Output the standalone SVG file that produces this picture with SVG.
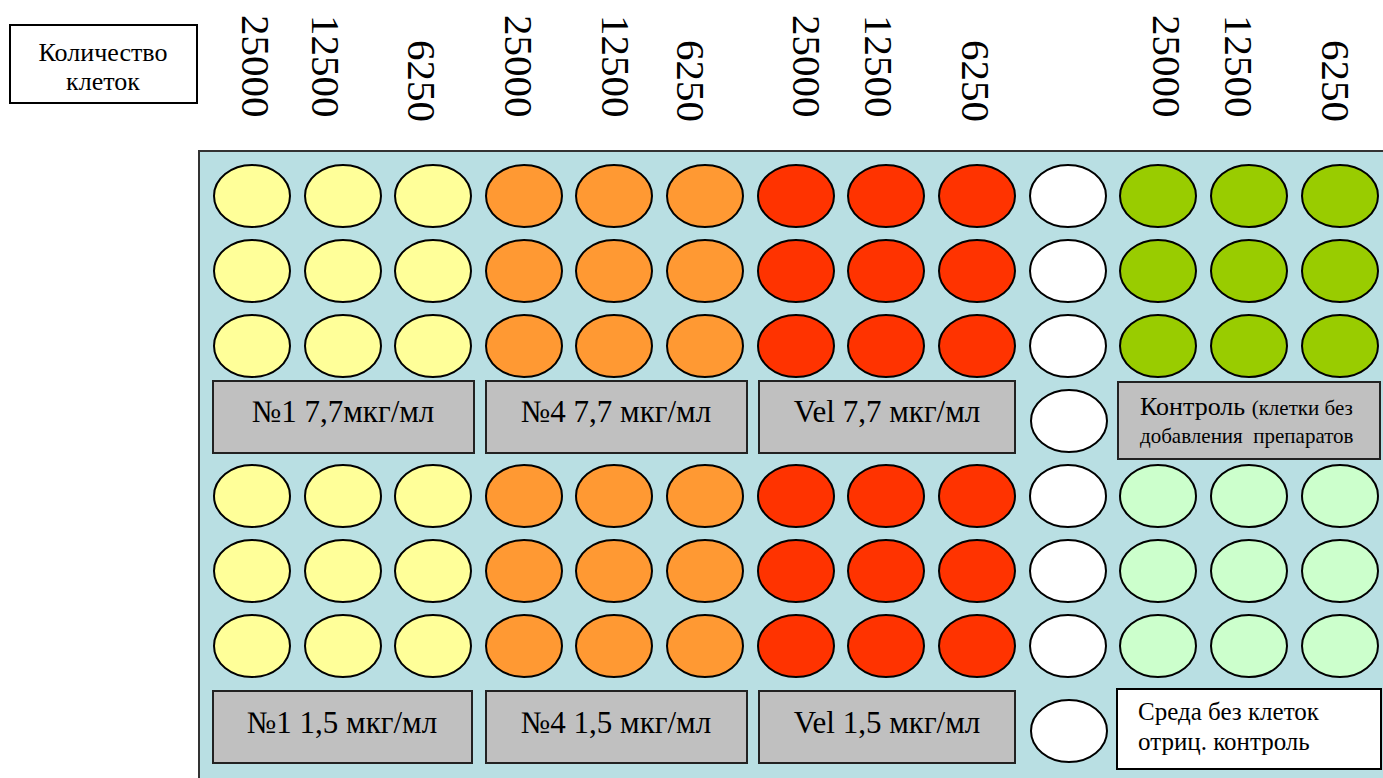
<svg xmlns="http://www.w3.org/2000/svg" width="1383" height="778" viewBox="0 0 1383 778" font-family="'Liberation Serif', serif">
<style>
text{font-family:"Liberation Serif",serif;fill:#000}
.num{font-size:41px;font-family:"Liberation Serif",serif}
.w{stroke:#000;stroke-width:2}
.y{fill:#FFFF99}.o{fill:#FF9933}.r{fill:#FF3300}.wh{fill:#FFFFFF}.g{fill:#99CC00}.lg{fill:#CCFFCC}
.lab{fill:#C0C0C0;stroke:#222;stroke-width:2}
.lt{font-size:31px;text-anchor:middle}
</style>
<rect width="1383" height="778" fill="#fff"/>
<g id="header-box">
<rect x="10" y="25" width="187" height="78" fill="#fff" stroke="#000" stroke-width="2"/>
<text x="103" y="61" font-size="26" text-anchor="middle">Количество</text>
<text x="103" y="90" font-size="26" text-anchor="middle">клеток</text>
</g>
<g id="header-numbers" font-family="'Liberation Serif', serif" font-size="41">
<text class="num" transform="translate(242,15) rotate(90)">25000</text>
<text class="num" transform="translate(312,15) rotate(90)">12500</text>
<text class="num" transform="translate(408,40) rotate(90)">6250</text>
<text class="num" transform="translate(505,15) rotate(90)">25000</text>
<text class="num" transform="translate(602,15) rotate(90)">12500</text>
<text class="num" transform="translate(677,40) rotate(90)">6250</text>
<text class="num" transform="translate(793,15) rotate(90)">25000</text>
<text class="num" transform="translate(865,15) rotate(90)">12500</text>
<text class="num" transform="translate(962,40) rotate(90)">6250</text>
<text class="num" transform="translate(1153,15) rotate(90)">25000</text>
<text class="num" transform="translate(1225,15) rotate(90)">12500</text>
<text class="num" transform="translate(1322,40) rotate(90)">6250</text>
</g>
<g id="plate">
<rect x="199" y="151" width="1200" height="640" fill="#B9DFE3" stroke="#333" stroke-width="2"/>
</g>
<defs>
<ellipse id="e" rx="38" ry="31"/>
</defs>
<g id="wells" class="w">
<g id="row1">
<use href="#e" x="252" y="196" class="y"/><use href="#e" x="343" y="196" class="y"/><use href="#e" x="433" y="196" class="y"/>
<use href="#e" x="524" y="196" class="o"/><use href="#e" x="614" y="196" class="o"/><use href="#e" x="705" y="196" class="o"/>
<use href="#e" x="796" y="196" class="r"/><use href="#e" x="886" y="196" class="r"/><use href="#e" x="977" y="196" class="r"/>
<use href="#e" x="1068" y="196" class="wh"/>
<use href="#e" x="1158" y="196" class="g"/><use href="#e" x="1249" y="196" class="g"/><use href="#e" x="1340" y="196" class="g"/>
</g>
<g id="row2">
<use href="#e" x="252" y="271" class="y"/><use href="#e" x="343" y="271" class="y"/><use href="#e" x="433" y="271" class="y"/>
<use href="#e" x="524" y="271" class="o"/><use href="#e" x="614" y="271" class="o"/><use href="#e" x="705" y="271" class="o"/>
<use href="#e" x="796" y="271" class="r"/><use href="#e" x="886" y="271" class="r"/><use href="#e" x="977" y="271" class="r"/>
<use href="#e" x="1068" y="271" class="wh"/>
<use href="#e" x="1158" y="271" class="g"/><use href="#e" x="1249" y="271" class="g"/><use href="#e" x="1340" y="271" class="g"/>
</g>
<g id="row3">
<use href="#e" x="252" y="346" class="y"/><use href="#e" x="343" y="346" class="y"/><use href="#e" x="433" y="346" class="y"/>
<use href="#e" x="524" y="346" class="o"/><use href="#e" x="614" y="346" class="o"/><use href="#e" x="705" y="346" class="o"/>
<use href="#e" x="796" y="346" class="r"/><use href="#e" x="886" y="346" class="r"/><use href="#e" x="977" y="346" class="r"/>
<use href="#e" x="1068" y="346" class="wh"/>
<use href="#e" x="1158" y="346" class="g"/><use href="#e" x="1249" y="346" class="g"/><use href="#e" x="1340" y="346" class="g"/>
</g>
<use href="#e" x="1069" y="421" class="wh"/>
<g id="row4">
<use href="#e" x="252" y="496" class="y"/><use href="#e" x="343" y="496" class="y"/><use href="#e" x="433" y="496" class="y"/>
<use href="#e" x="524" y="496" class="o"/><use href="#e" x="614" y="496" class="o"/><use href="#e" x="705" y="496" class="o"/>
<use href="#e" x="796" y="496" class="r"/><use href="#e" x="886" y="496" class="r"/><use href="#e" x="977" y="496" class="r"/>
<use href="#e" x="1068" y="496" class="wh"/>
<use href="#e" x="1158" y="496" class="lg"/><use href="#e" x="1249" y="496" class="lg"/><use href="#e" x="1340" y="496" class="lg"/>
</g>
<g id="row5">
<use href="#e" x="252" y="571" class="y"/><use href="#e" x="343" y="571" class="y"/><use href="#e" x="433" y="571" class="y"/>
<use href="#e" x="524" y="571" class="o"/><use href="#e" x="614" y="571" class="o"/><use href="#e" x="705" y="571" class="o"/>
<use href="#e" x="796" y="571" class="r"/><use href="#e" x="886" y="571" class="r"/><use href="#e" x="977" y="571" class="r"/>
<use href="#e" x="1068" y="571" class="wh"/>
<use href="#e" x="1158" y="571" class="lg"/><use href="#e" x="1249" y="571" class="lg"/><use href="#e" x="1340" y="571" class="lg"/>
</g>
<g id="row6">
<use href="#e" x="252" y="646" class="y"/><use href="#e" x="343" y="646" class="y"/><use href="#e" x="433" y="646" class="y"/>
<use href="#e" x="524" y="646" class="o"/><use href="#e" x="614" y="646" class="o"/><use href="#e" x="705" y="646" class="o"/>
<use href="#e" x="796" y="646" class="r"/><use href="#e" x="886" y="646" class="r"/><use href="#e" x="977" y="646" class="r"/>
<use href="#e" x="1068" y="646" class="wh"/>
<use href="#e" x="1158" y="646" class="lg"/><use href="#e" x="1249" y="646" class="lg"/><use href="#e" x="1340" y="646" class="lg"/>
</g>
<use href="#e" x="1069" y="731" class="wh"/>
</g>
<g id="label-n1-77"><rect x="213" y="381" width="261" height="72" class="lab"/><text x="343" y="422" class="lt">№1 7,7мкг/мл</text></g>
<g id="label-n4-77"><rect x="486" y="381" width="261" height="72" class="lab"/><text x="616" y="422" class="lt">№4 7,7 мкг/мл</text></g>
<g id="label-vel-77"><rect x="759" y="381" width="256" height="72" class="lab"/><text x="887" y="422" class="lt">Vel 7,7 мкг/мл</text></g>
<g id="label-control">
<rect x="1118" y="382" width="262" height="77" class="lab"/>
<text x="1140" y="415"><tspan font-size="26">Контроль </tspan><tspan font-size="21">(клетки без</tspan></text>
<text x="1140" y="443" font-size="21" xml:space="preserve">добавления  препаратов</text>
</g>
<g id="label-n1-15"><rect x="213" y="691" width="259" height="72" class="lab"/><text x="342" y="733" class="lt">№1 1,5 мкг/мл</text></g>
<g id="label-n4-15"><rect x="486" y="691" width="261" height="72" class="lab"/><text x="616" y="733" class="lt">№4 1,5 мкг/мл</text></g>
<g id="label-vel-15"><rect x="759" y="691" width="256" height="72" class="lab"/><text x="887" y="733" class="lt">Vel 1,5 мкг/мл</text></g>
<g id="label-medium">
<rect x="1117" y="689" width="264" height="80" fill="#fff" stroke="#000" stroke-width="2"/>
<text x="1138" y="720" font-size="25">Среда без клеток</text>
<text x="1138" y="750" font-size="25">отриц. контроль</text>
</g>
</svg>
